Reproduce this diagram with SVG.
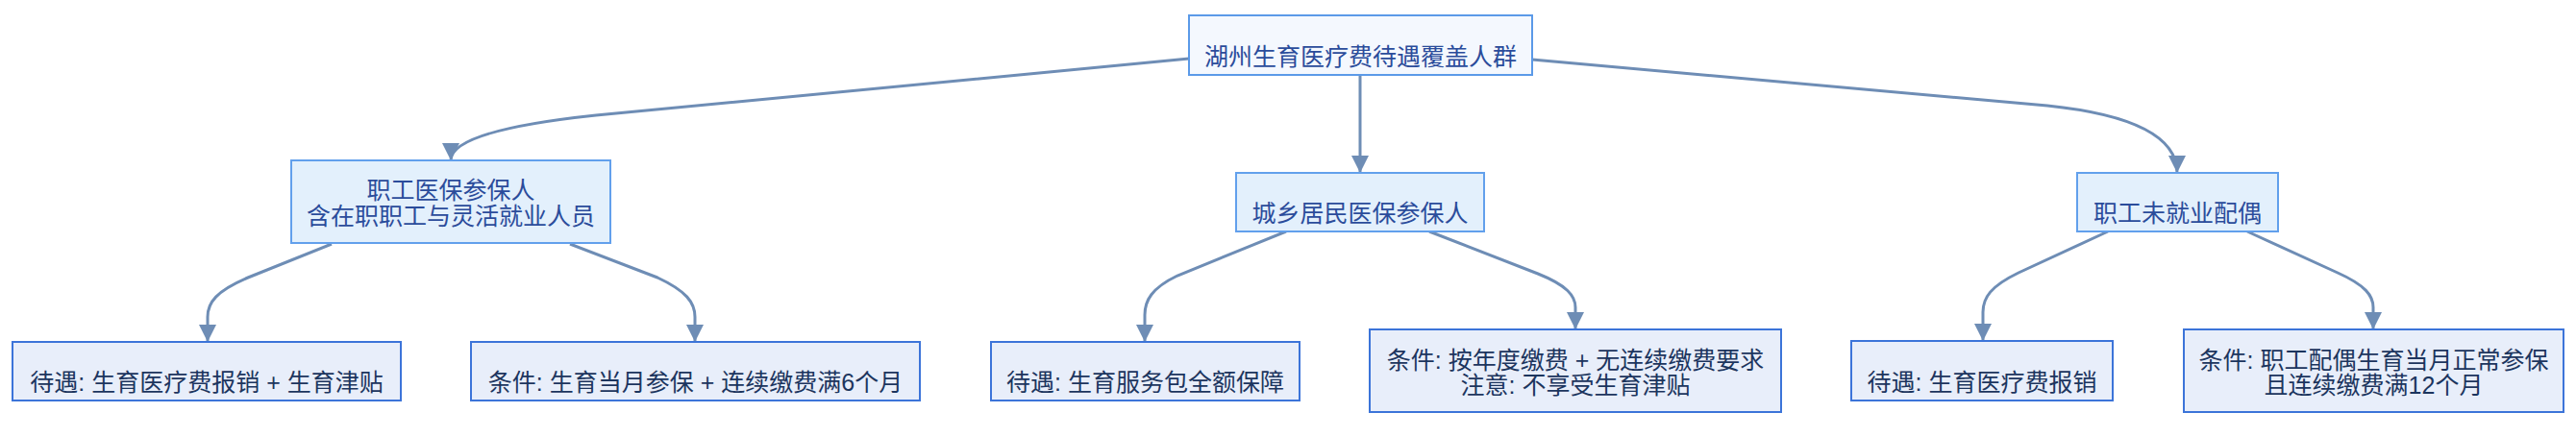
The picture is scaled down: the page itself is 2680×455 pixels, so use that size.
<svg xmlns="http://www.w3.org/2000/svg" width="2680" height="455" viewBox="0 0 2680 455">
<defs>
<marker id="arr" viewBox="0 0 10 10" refX="10" refY="5" markerWidth="18" markerHeight="18" markerUnits="userSpaceOnUse" orient="auto">
<path d="M0,0 L10,5 L0,10 z" fill="#6e8db5"/>
</marker>
<style>
text{font-family:"Liberation Sans","Noto Sans CJK SC",sans-serif;font-size:25px;text-anchor:middle}
.root rect{fill:#f4f8fe;stroke:#5b9ae8;stroke-width:2}
.mid rect{fill:#e3f0fc;stroke:#62a0ec;stroke-width:2}
.leaf rect{fill:#e8eefa;stroke:#3c74d9;stroke-width:2}
.root text,.mid text{fill:#2b4c9b}
.leaf text{fill:#1c355e}
.edge{fill:none;stroke:#6e8db5;stroke-width:3;marker-end:url(#arr)}
</style>
</defs>
<rect width="2680" height="455" fill="#ffffff"/>
<g id="connectors">
<path class="edge" d="M1237,61 L620,120 Q469,136 469,167"/>
<path class="edge" d="M1415,78 L1415,180"/>
<path class="edge" d="M1594,62 L2130,110 Q2265,124 2265,180"/>
<path class="edge" d="M345,254 L258,289 C225,303 216,315 216,330 L216,356"/>
<path class="edge" d="M593,254 L684,289 C714,303 723,315 723,330 L723,356"/>
<path class="edge" d="M1338,241 L1225,287 C1198,300 1191,313 1191,328 L1191,356"/>
<path class="edge" d="M1487,241 L1600,285 C1630,297 1639,308 1639,320 L1639,343"/>
<path class="edge" d="M2193,241 L2100,284 C2071,298 2063,310 2063,325 L2063,355"/>
<path class="edge" d="M2338,241 L2432,284 C2461,297 2469,308 2469,320 L2469,343"/>
</g>
<g id="root" class="root">
<rect x="1237" y="16" width="357" height="62"/>
<text x="1415.5" y="68">湖州生育医疗费待遇覆盖人群</text>
</g>
<g id="n_employee" class="mid">
<rect x="303" y="167" width="332" height="86"/>
<text x="469" y="207">职工医保参保人<tspan x="469" dy="26.5">含在职职工与灵活就业人员</tspan></text>
</g>
<g id="n_resident" class="mid">
<rect x="1286" y="180" width="258" height="61"/>
<text x="1415" y="230.5">城乡居民医保参保人</text>
</g>
<g id="n_spouse" class="mid">
<rect x="2161" y="180" width="209" height="61"/>
<text x="2265.5" y="230.5">职工未就业配偶</text>
</g>
<g id="l_emp_benefit" class="leaf">
<rect x="13" y="356" width="404" height="61"/>
<text x="215" y="407">待遇: 生育医疗费报销 + 生育津贴</text>
</g>
<g id="l_emp_cond" class="leaf">
<rect x="490" y="356" width="467" height="61"/>
<text x="723.5" y="407">条件: 生育当月参保 + 连续缴费满6个月</text>
</g>
<g id="l_res_benefit" class="leaf">
<rect x="1031" y="356" width="321" height="61"/>
<text x="1191.5" y="406.5">待遇: 生育服务包全额保障</text>
</g>
<g id="l_res_cond" class="leaf">
<rect x="1425" y="343" width="428" height="86"/>
<text x="1639" y="384">条件: 按年度缴费 + 无连续缴费要求<tspan x="1639" dy="26">注意: 不享受生育津贴</tspan></text>
</g>
<g id="l_sp_benefit" class="leaf">
<rect x="1926" y="355" width="272" height="62"/>
<text x="2062" y="406.5">待遇: 生育医疗费报销</text>
</g>
<g id="l_sp_cond" class="leaf">
<rect x="2272" y="343" width="395" height="86"/>
<text x="2469.5" y="384">条件: 职工配偶生育当月正常参保<tspan x="2469.5" dy="26">且连续缴费满12个月</tspan></text>
</g>
</svg>
